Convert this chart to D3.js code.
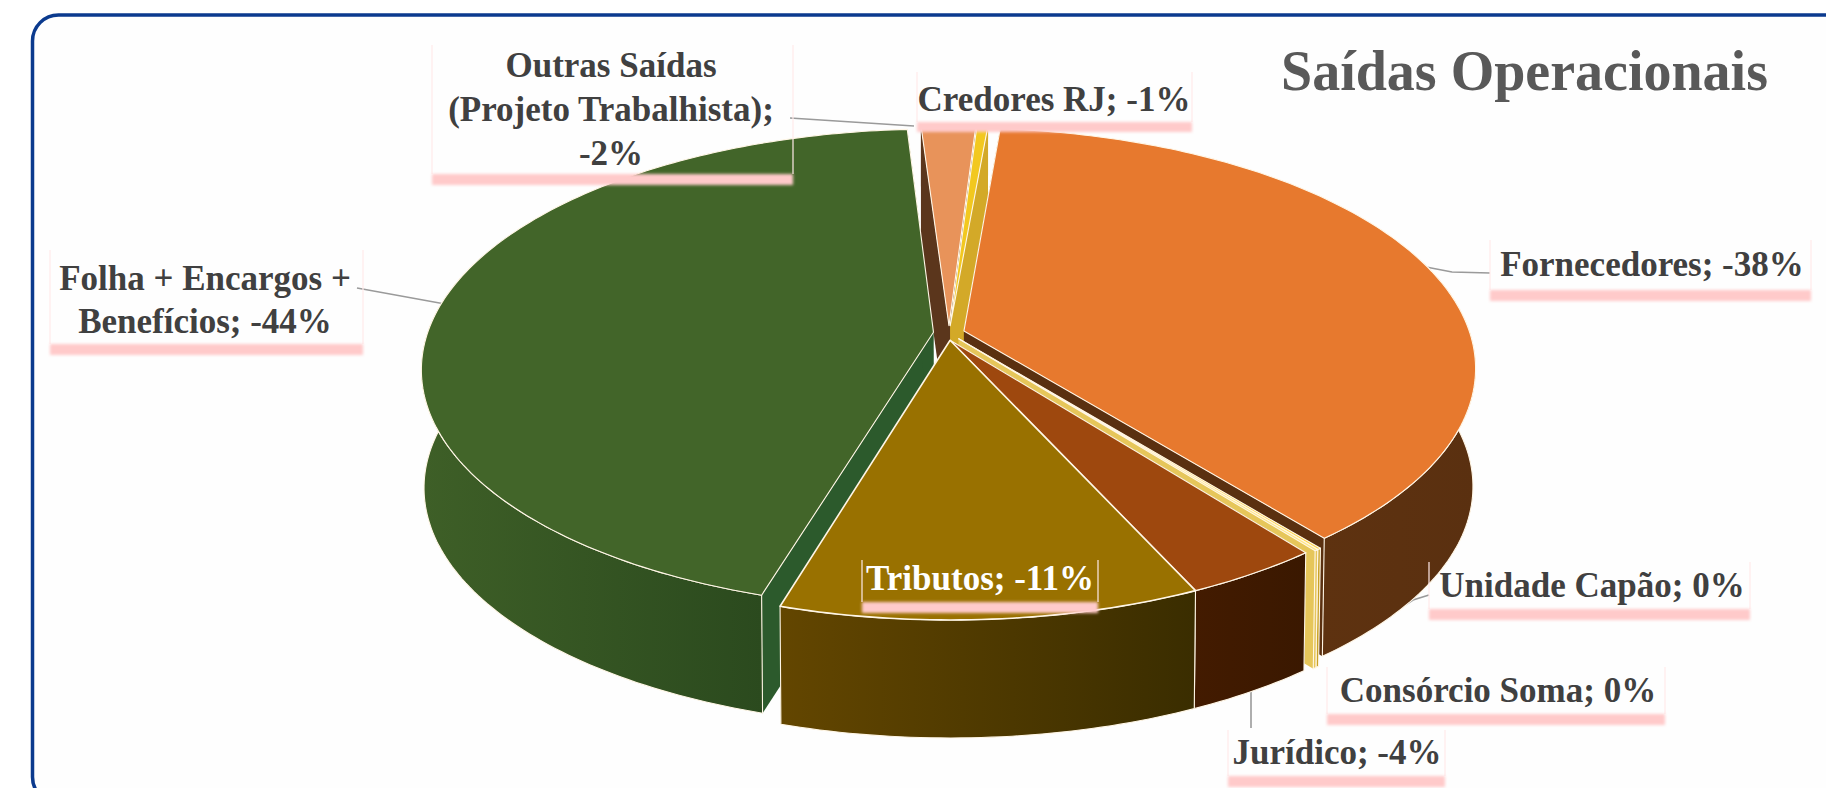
<!DOCTYPE html>
<html><head><meta charset="utf-8">
<script src="https://cdn.jsdelivr.net/npm/d3@7"></script>
<style>html,body{margin:0;padding:0;background:#fff;overflow:hidden}svg{display:block}
text{font-family:"Liberation Serif",serif;font-weight:700}</style></head>
<body><svg id="c" width="1826" height="788"></svg>
<script>
// ---- data ----
const categories = ["Fornecedores","Unidade Capão","Consórcio Soma","Jurídico","Tributos","Folha + Encargos + Benefícios","Outras Saídas (Projeto Trabalhista)","Credores RJ"];
const values = [37.65,0.1,0.1,3.7,11.35,44.1,2.0,0.4];
const displayed = ["-38%","0%","0%","-4%","-11%","-44%","-2%","-1%"];
const topColors = ["#E7792E","#FFD54A","#FFE680","#9E480E","#997100","#426529","#E8935A","#F2C81F"];
const wallLeft  = ["#5E3210","#C9A227","#E6C65A","#431B00","#634600","#3E5F27","#5B361C","#D3A928"];
const wallRight = ["#5A3010","#C9A227","#E6C65A","#3A1800","#3A2D00","#2B4A1E","#5B361C","#D3A928"];
const sideColors= ["#5A3010","#C9A227","#E6C65A","#3C1A00","#4A3600","#2C5A2C","#5B361C","#D3A928"];
const titleText = "Saídas Operacionais";
const labelLines = [["Fornecedores; -38%"],["Unidade Capão; 0%"],["Consórcio Soma; 0%"],["Jurídico; -4%"],["Tributos; -11%"],["Folha + Encargos +","Benefícios; -44%"],["Outras Saídas","(Projeto Trabalhista);","-2%"],["Credores RJ; -1%"]];
// ---- layout ----
const svg=d3.select("#c");
const labelLayout=[
 {cx:1652,cy:264,sx:1490,sw:321,sy:290,sh:11,top:240,fill:"#404040"},
 {cx:1592,cy:585,sx:1429,sw:321,sy:609,sh:11,top:562,fill:"#404040"},
 {cx:1498,cy:690,sx:1327,sw:338,sy:714,sh:11,top:667,fill:"#404040"},
 {cx:1337,cy:752,sx:1228,sw:217,sy:776,sh:11,top:730,fill:"#404040"},
 {cx:980,cy:578,sx:862,sw:236,sy:602,sh:11,top:560,fill:"#ffffff"},
 {cx:205,cy:278,sx:50,sw:313,sy:344,sh:11,top:250,fill:"#404040"},
 {cx:611,cy:65,sx:432,sw:361,sy:174,sh:11,top:45,fill:"#404040"},
 {cx:1054,cy:99,sx:917,sw:275,sy:122,sh:10,top:72,fill:"#404040"}];
const leaders=[
 [[1400,262],[1452,272],[1490,273]],
 [[1429,595],[1413,600],[1362,633]],
 [[1251,687],[1251,728]],
 [[357,288],[445,304]],
 [[790,118],[914,126]]];
const LH=[0,0,0,0,0,43,44,0];
const cx=949,R=521.6,a=189.2,b=333,c=-.1577,depth=118,shrink=.995,rad=.97,expl=.03;
const P=(u,v,d)=>{const w=1+c*v,s=1-d*(1-shrink);return [cx+R*u/w*s,(a*v+b)/w+d*depth];};

const defs=svg.append("defs");
const blur=defs.append("filter").attr("id","b").attr("x","-5%").attr("width","110%").attr("y","-60%").attr("height","220%");
blur.append("feGaussianBlur").attr("stdDeviation",1.8);

// card
svg.append("rect").attr("x",32.5).attr("y",15).attr("width",2000).attr("height",788).attr("rx",26)
 .attr("fill","#fefefe").attr("stroke","#0B3A8E").attr("stroke-width",3.5);

const pie=d3.pie().value(d=>d).sort(null).startAngle(5*Math.PI/180).endAngle(365*Math.PI/180);
const arcs=pie(values).map((p,i)=>({...p,i,mid:(p.startAngle+p.endAngle)/2}));
// Jurídico moves together with Tributos: no gap between them in the picture
const off=p=>{const m=p.i===3?arcs[4].mid:p.mid;return [expl*Math.sin(m),-expl*Math.cos(m)];};
const pt=(p,t,r,d)=>{const o=off(p);return P(r*Math.sin(t)+o[0],-r*Math.cos(t)+o[1],d);};
const samples=(s,e)=>{const n=Math.max(2,Math.ceil((e-s)/(Math.PI/180))+1);return d3.range(n).map(k=>s+(e-s)*k/(n-1));};
const line=d3.line();
const edge="#FFF6E6";

arcs.forEach(p=>{const g=defs.append("linearGradient").attr("id","w"+p.i);
 g.append("stop").attr("offset",0).attr("stop-color",wallLeft[p.i]);
 g.append("stop").attr("offset",1).attr("stop-color",wallRight[p.i]);});

// leaders go under the pie
svg.append("g").selectAll("path").data(leaders).join("path").attr("d",d=>line(d)).attr("fill","none").attr("stroke","#9a9a9a").attr("stroke-width",1.6);

const order=arcs.slice().sort((x,y)=>(-Math.cos(x.mid))-(-Math.cos(y.mid)));
const gw=svg.append("g");
order.forEach(p=>{
 [p.startAngle,p.endAngle].forEach(t=>{
  const quad=[pt(p,t,0,0),pt(p,t,rad,0),pt(p,t,rad,1),pt(p,t,0,1)];
  gw.append("path").attr("d",line(quad)+"Z").attr("fill",sideColors[p.i]);
 });
 // only the front part of the rim can be seen
 const ts=samples(p.startAngle,p.endAngle).filter(t=>Math.cos(t)<0.3);
 if(ts.length>1){
  const rim=ts.map(t=>pt(p,t,rad,0)).concat(ts.slice().reverse().map(t=>pt(p,t,rad,1)));
  gw.append("path").attr("d",line(rim)+"Z").attr("fill",`url(#w${p.i})`).attr("stroke",edge).attr("stroke-width",1.1);
 }
});
const gt=svg.append("g");
arcs.forEach(p=>{
 const ts=samples(p.startAngle,p.endAngle);
 const poly=[pt(p,0,0,0)].concat(ts.map(t=>pt(p,t,rad,0)));
 gt.append("path").attr("d",line(poly)+"Z").attr("fill",topColors[p.i]).attr("stroke",edge).attr("stroke-width",p.i===4?1.6:1.1).attr("stroke-linejoin","round");
});

// labels
const gl=svg.append("g");
labelLines.forEach((lines,i)=>{const l=labelLayout[i];
 gl.append("path").attr("d",line([[l.sx,l.top],[l.sx,l.sy]])+line([[l.sx+l.sw,l.top],[l.sx+l.sw,l.sy]])).attr("stroke","#FFE9E9").attr("stroke-width",1.2).attr("fill","none");
 gl.append("rect").attr("x",l.sx).attr("y",l.sy).attr("width",l.sw).attr("height",l.sh).attr("fill","#FFCACA").attr("filter","url(#b)");
 lines.forEach((s,k)=>gl.append("text").attr("x",l.cx).attr("y",l.cy+k*LH[i]).attr("dy",".34em").attr("text-anchor","middle")
   .attr("font-size",35).attr("fill",l.fill).text(s));
});
svg.append("text").attr("x",1281).attr("y",90).attr("font-size",56).attr("fill","#595959").text(titleText);
</script></body></html>
